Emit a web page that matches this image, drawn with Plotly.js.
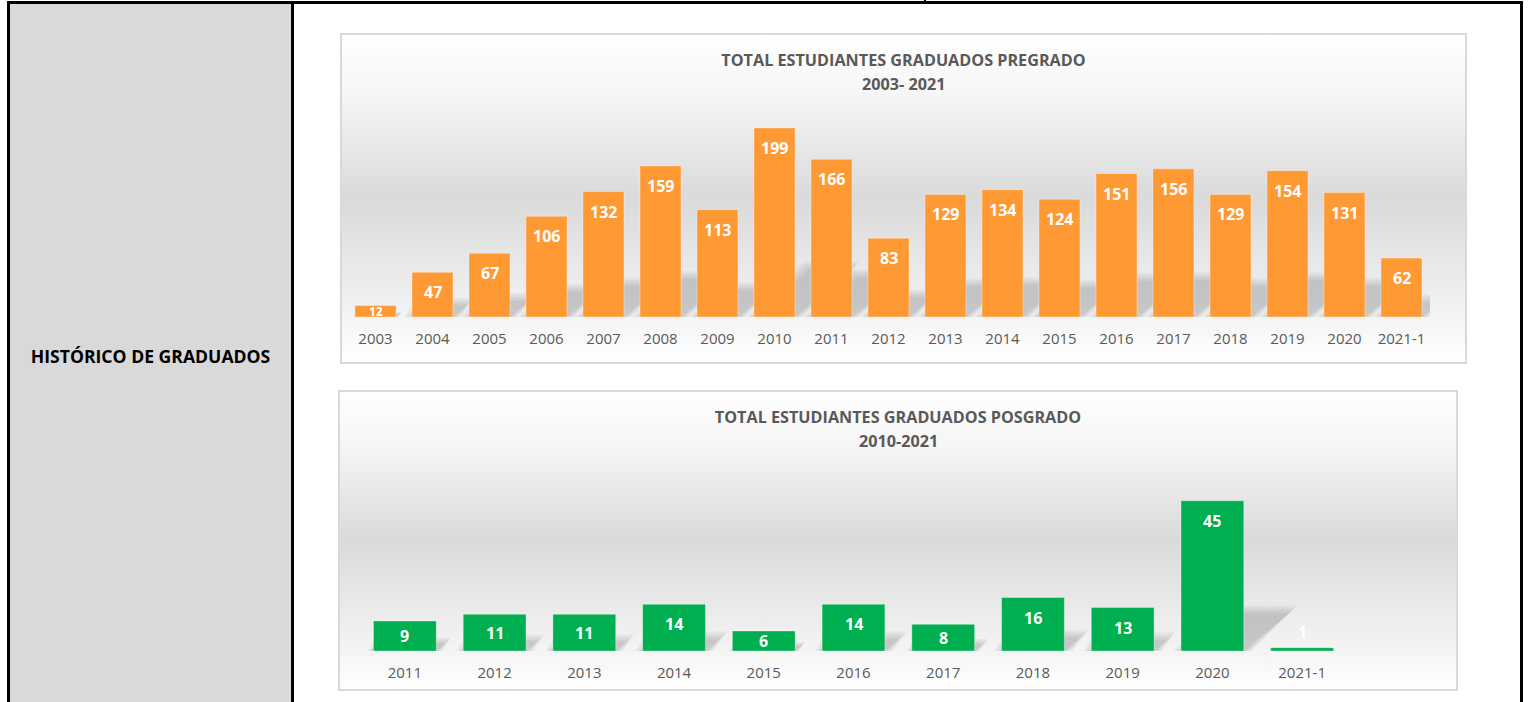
<!DOCTYPE html>
<html>
<head>
<meta charset="utf-8">
<script src="https://cdn.plot.ly/plotly-3.0.1.min.js"></script>
<style>
  html, body { margin:0; padding:0; background:#fff; width:1531px; height:702px; overflow:hidden; font-family: 'Open Sans', sans-serif; }
  .abs { position:absolute; }
  .line { position:absolute; background:#000; }
  .box { position:absolute; background: linear-gradient(to bottom, #ffffff 0%, #f6f6f6 18%, #dadada 50%, #f1f1f1 82%, #ffffff 100%); box-shadow: inset 0 0 0 2px #d9d9d9; }
  #label { position:absolute; left:10px; width:281px; top:343px; line-height:26px; text-align:center; font-weight:bold; font-size:17.6px; color:#000; }
</style>
</head>
<body>
<div class="abs" style="left:10px; top:4px; width:281px; height:698px; background:#d9d9d9;"></div>
<div class="line" style="left:7px; top:1px; width:1516px; height:3px;"></div>
<div class="line" style="left:7px; top:1px; width:3px; height:701px;"></div>
<div class="line" style="left:291px; top:1px; width:3px; height:701px;"></div>
<div class="line" style="left:1520px; top:1px; width:3px; height:701px;"></div>
<div class="line" style="left:924px; top:0px; width:2px; height:3px;"></div>
<div id="label">HISTÓRICO DE GRADUADOS</div>
<div id="c1" class="box" style="left:340px; top:33px; width:1127px; height:331px;"></div>
<div id="c2" class="box" style="left:338px; top:390px; width:1120px; height:301px;"></div>
<script>
const catsPregrado = ['2003','2004','2005','2006','2007','2008','2009','2010','2011','2012','2013','2014','2015','2016','2017','2018','2019','2020','2021-1'];
const valsPregrado = [12,47,67,106,132,159,113,199,166,83,129,134,124,151,156,129,154,131,62];
const titlePregrado = 'TOTAL ESTUDIANTES GRADUADOS PREGRADO';
const subPregrado = '2003- 2021';

const catsPosgrado = ['2011','2012','2013','2014','2015','2016','2017','2018','2019','2020','2021-1'];
const valsPosgrado = [9,11,11,14,6,14,8,16,13,45,1];
const titlePosgrado = 'TOTAL ESTUDIANTES GRADUADOS POSGRADO';
const subPosgrado = '2010-2021';

const FONT = "'Open Sans', sans-serif";
const GREY = '#595959';

function draw(id, cats, vals, color, title, sub, W, H, m, ymax, gap) {
  const plotH = H - m.t - m.b;
  const plotW = W - m.l - m.r;
  const pxPerUnit = plotH / ymax;
  const pxPerCat = plotW / cats.length;
  const idx = cats.map((c, i) => i);
  const half = (1 - gap) / 2;

  // soft perspective shadows behind the bars (decoration derived from the values)
  const shadowTraces = [0, 2, 4, 6, 8].map(grow => {
    const xs = [], ys = [];
    vals.forEach((v, i) => {
      const hpx = v * pxPerUnit;
      const k = Math.min(1, hpx / 40);
      const dx = 0.3 * hpx / pxPerCat;
      const g = grow * k / pxPerCat;
      const top = 0.25 * v + grow * k / pxPerUnit;
      xs.push(i - half - g, i + half + g, i + half + g + dx, i - half - g + dx, i - half - g, null);
      ys.push(0, 0, top, top, 0, null);
    });
    return { type: 'scatter', x: xs, y: ys, xaxis: 'x', yaxis: 'y', mode: 'lines', fill: 'toself',
             line: { width: 0, color: 'rgba(0,0,0,0)' },
             fillcolor: 'rgba(80,80,80,0.055)', hoverinfo: 'skip', showlegend: false };
  });

  const ann = vals.map((v, i) => {
    const h = v * pxPerUnit;
    let shift, size = 16;
    if (h < 8) { shift = 16; }
    else { shift = -Math.min(20, h / 2); if (h < 16) size = 12; }
    return { x: i, y: v, xref: 'x2', yref: 'y2', text: '<b>' + v + '</b>', showarrow: false,
             yanchor: 'middle', yshift: shift, font: { family: FONT, size: size, color: '#ffffff' } };
  });
  const subY = 1 + (m.t - 51) / plotH;
  const subX = ((W / 2) - m.l) / plotW;
  ann.push({ xref: 'paper', yref: 'paper', x: subX, y: subY, showarrow: false, text: '<b>' + sub + '</b>',
             xanchor: 'center', yanchor: 'middle', font: { family: FONT, size: 16.2, color: GREY } });
  const data = shadowTraces.concat([{
    type: 'bar', x: idx, y: vals, xaxis: 'x2', yaxis: 'y2', text: cats,
    marker: { color: color, line: { color: 'rgba(255,255,255,0.35)', width: 1 } },
    hovertemplate: '%{text}: %{y}<extra></extra>', textposition: 'none'
  }]);
  const hiddenX = { type: 'linear', range: [-0.5, cats.length - 0.5], visible: false, fixedrange: true };
  const layout = {
    width: W, height: H, margin: m,
    paper_bgcolor: 'rgba(0,0,0,0)', plot_bgcolor: 'rgba(0,0,0,0)',
    title: { text: '<b>' + title + '</b>', font: { family: FONT, size: 16.2, color: GREY },
             x: 0.5, xref: 'container', xanchor: 'center', y: 1 - 27 / H, yref: 'container', yanchor: 'middle' },
    bargap: gap, showlegend: false,
    xaxis: { type: 'linear', range: [-0.5, cats.length - 0.5], tickmode: 'array', tickvals: idx, ticktext: cats,
             showgrid: false, zeroline: false, showline: false, ticks: '', fixedrange: true,
             tickfont: { family: FONT, size: 15, color: GREY }, ticklabelstandoff: 11 },
    yaxis: { visible: false, range: [0, ymax], fixedrange: true, showgrid: false, zeroline: false },
    xaxis2: Object.assign({ overlaying: 'x', anchor: 'y2' }, hiddenX),
    yaxis2: { overlaying: 'y', anchor: 'x2', visible: false, range: [0, ymax], fixedrange: true },
    annotations: ann
  };
  Plotly.newPlot(id, data, layout, { displayModeBar: false, staticPlot: true });
}

draw('c1', catsPregrado, valsPregrado, '#ff9933', titlePregrado, subPregrado, 1127, 331,
     { l: 7, r: 37, t: 75, b: 47, pad: 0 }, 220, 0.28);
draw('c2', catsPosgrado, valsPosgrado, '#00b050', titlePosgrado, subPosgrado, 1120, 301,
     { l: 22, r: 111, t: 94, b: 40, pad: 0 }, 50, 0.30);
</script>
</body>
</html>
